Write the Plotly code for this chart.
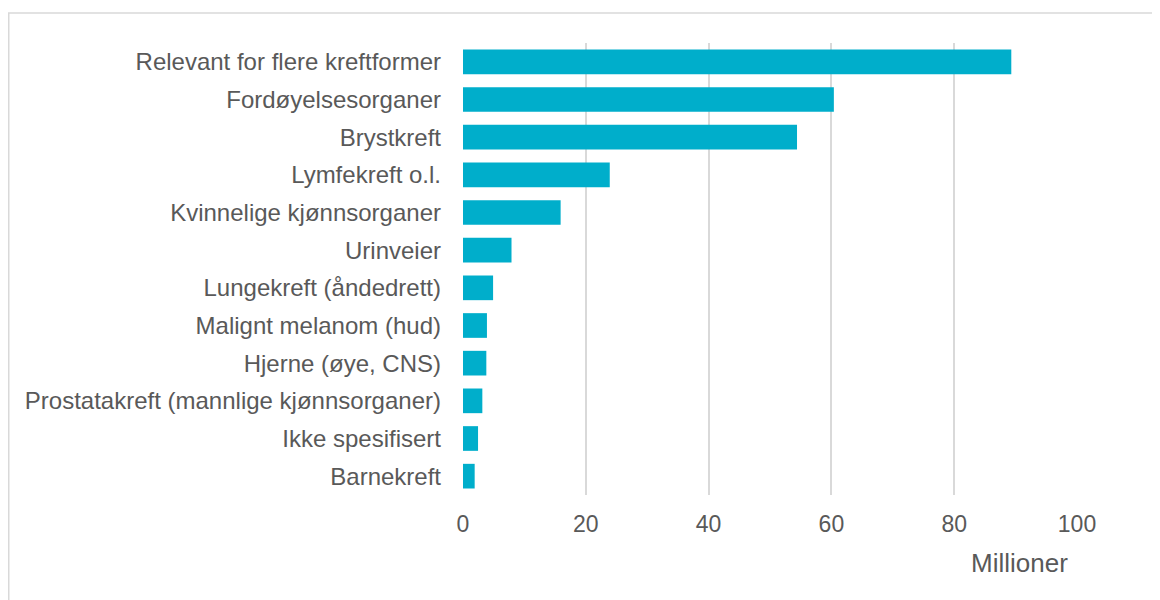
import plotly.graph_objects as go

categories = [
    "Relevant for flere kreftformer",
    "Fordøyelsesorganer",
    "Brystkreft",
    "Lymfekreft o.l.",
    "Kvinnelige kjønnsorganer",
    "Urinveier",
    "Lungekreft (åndedrett)",
    "Malignt melanom (hud)",
    "Hjerne (øye, CNS)",
    "Prostatakreft (mannlige kjønnsorganer)",
    "Ikke spesifisert",
    "Barnekreft",
]
values = [89.3, 60.4, 54.4, 23.9, 15.9, 7.9, 4.9, 3.9, 3.8, 3.15, 2.45, 1.9]
x_ticks = [0, 20, 40, 60, 80, 100]
axis_title = "Millioner"

# page has an 8px body margin; figure occupies page x 8..1160, y 8..600
OFF = 8
W, H = 1160 - OFF, 600 - OFF
L, R, T, B = 463 - OFF, 1077 - OFF, 43 - OFF, 495 - OFF

fig = go.Figure(go.Bar(
    x=values, y=categories, orientation="h",
    marker=dict(color="#00AECB", line=dict(width=0)),
))

text_color = "#595959"
font_family = "Liberation Sans, Arial, sans-serif"

fig.update_layout(
    width=W, height=H,
    margin=dict(l=L, r=W - R, t=T, b=H - B, pad=0),
    paper_bgcolor="white", plot_bgcolor="white",
    bargap=0.345,
    showlegend=False,
    font=dict(family=font_family, color=text_color, size=24),
    xaxis=dict(
        range=[0, 100], tickvals=x_ticks, showgrid=True, gridcolor="#D9D9D9",
        gridwidth=2, zeroline=False, showline=False, ticks="",
        tickfont=dict(size=23, color=text_color), ticklabelstandoff=13,
        fixedrange=True,
    ),
    yaxis=dict(
        categoryorder="array", categoryarray=categories[::-1],
        showgrid=False, zeroline=False, showline=False, ticks="",
        tickfont=dict(size=24, color=text_color), ticklabelstandoff=21,
        fixedrange=True,
    ),
    shapes=[dict(
        type="rect", xref="paper", yref="paper",
        x0=(0.75 - L) / (R - L), x1=(W + 10 - L) / (R - L),
        y0=(B - (H + 10)) / (B - T), y1=(B - (13 - OFF)) / (B - T),
        line=dict(color="#D9D9D9", width=1.5), fillcolor="rgba(0,0,0,0)",
        layer="below",
    )],
    annotations=[dict(
        text=axis_title, xref="paper", yref="paper",
        x=(1019 - OFF - L) / (R - L), y=(B - (563 - OFF)) / (B - T),
        xanchor="center", yanchor="middle", showarrow=False,
        font=dict(size=26, color=text_color),
    )],
)

fig.write_html("out.html")
